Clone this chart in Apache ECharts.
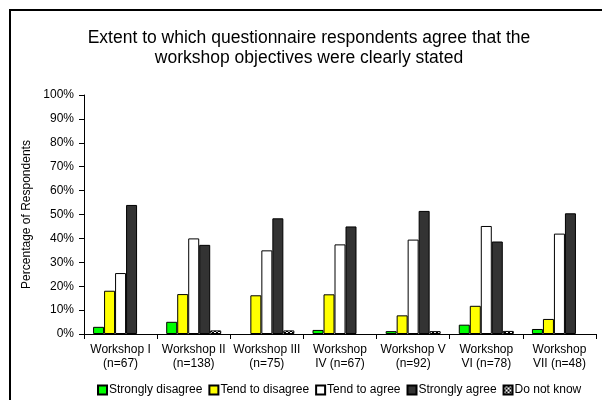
<!DOCTYPE html>
<html lang="en">
<head>
    <meta charset="utf-8">
    <title>Workshop objectives</title>
    <script src="https://cdn.jsdelivr.net/npm/echarts@6/dist/echarts.min.js"></script>
    <style>
        html, body, #map { width: 100%; height: 100%; margin: 0; padding: 0; overflow: hidden; background-color: #ffffff; }
    </style>
</head>
<body>
<div id="map"></div>
<script type="text/javascript">
    // categories (x axis)
    var workshops = ['Workshop I\n(n=67)', 'Workshop II\n(n=138)', 'Workshop III\n(n=75)', 'Workshop\nIV (n=67)',
        'Workshop V\n(n=92)', 'Workshop\nVI (n=78)', 'Workshop\nVII (n=48)'];

    // percentages
    var stronglyDisagree = [3.0, 5.1, 0, 1.7, 1.2, 3.9, 2.1];
    var tendDisagree = [18.1, 16.7, 16.2, 16.6, 7.8, 11.8, 6.3];
    var tendAgree = [25.5, 40.0, 35.0, 37.5, 39.5, 45.2, 42.0];
    var stronglyAgree = [54.0, 37.3, 48.4, 45.0, 51.5, 38.7, 50.5];
    var doNotKnow = [0, 1.5, 1.5, 0, 1.2, 1.3, 0];

    var seriesNames = ['Strongly disagree', 'Tend to disagree', 'Tend to agree', 'Strongly agree', 'Do not know'];

    //棋盘格填充
    var patternCanvas = document.createElement('canvas');
    patternCanvas.width = 4;
    patternCanvas.height = 4;
    var pctx = patternCanvas.getContext('2d');
    pctx.fillStyle = '#ffffff';
    pctx.fillRect(0, 0, 4, 4);
    pctx.fillStyle = '#000000';
    pctx.fillRect(0, 0, 2, 2);
    pctx.fillRect(2, 2, 2, 2);

    var colors = ['#00ff00', '#ffff00', '#ffffff', '#333333', { image: patternCanvas, repeat: 'repeat' }];
    var values = [stronglyDisagree, tendDisagree, tendAgree, stronglyAgree, doNotKnow];

    var series = [];
    for (var i = 0; i < seriesNames.length; i++) {
        series.push({
            name: seriesNames[i],
            type: 'bar',
            // zero bars are not drawn at all
            data: values[i].map(function (v) { return v === 0 ? '-' : v; }),
            barGap: '0%',
            barWidth: 11,
            itemStyle: { color: colors[i], borderColor: '#000000', borderWidth: 1 }
        });
    }

    var myChart = echarts.init(document.getElementById('map'));

    var option = {
        animation: false,
        textStyle: { fontFamily: 'Liberation Sans', color: '#000000' },
        title: {
            text: 'Extent to which questionnaire respondents agree that the\nworkshop objectives were clearly stated',
            left: 304,
            top: 23,
            textAlign: 'center',
            textStyle: { fontSize: 17.5, fontWeight: 'normal', color: '#000000', lineHeight: 20, fontFamily: 'Liberation Sans' }
        },
        graphic: [{
            type: 'rect',
            shape: { x: 10, y: 10, width: 620, height: 420 },
            style: { fill: 'none', stroke: '#000000', lineWidth: 2 },
            silent: true
        }],
        legend: {
            data: seriesNames,
            bottom: 4,
            left: 97,
            padding: 0,
            itemWidth: 9,
            itemHeight: 9,
            itemGap: 6,
            icon: 'rect',
            textStyle: { fontSize: 12, color: '#000000', padding: [0, 0, 0, -3] }
        },
        grid: { left: 84, right: 6, top: 95, bottom: 66, containLabel: false },
        xAxis: {
            type: 'category',
            data: workshops,
            axisLine: { lineStyle: { color: '#000000', width: 1 } },
            axisTick: { show: true, length: 5, lineStyle: { color: '#000000' } },
            axisLabel: { fontSize: 12, color: '#000000', lineHeight: 14, margin: 9, interval: 0 }
        },
        yAxis: {
            type: 'value',
            min: 0,
            max: 100,
            interval: 10,
            name: 'Percentage of Respondents',
            nameLocation: 'middle',
            nameGap: 48,
            nameTextStyle: { fontSize: 12, color: '#000000' },
            axisLine: { show: true, lineStyle: { color: '#000000', width: 1 } },
            axisTick: { show: true, length: 5, lineStyle: { color: '#000000' } },
            axisLabel: { formatter: '{value}%', fontSize: 12, color: '#000000', margin: 10 },
            splitLine: { show: false }
        },
        series: series
    };

    myChart.setOption(option);
</script>
</body>
</html>
